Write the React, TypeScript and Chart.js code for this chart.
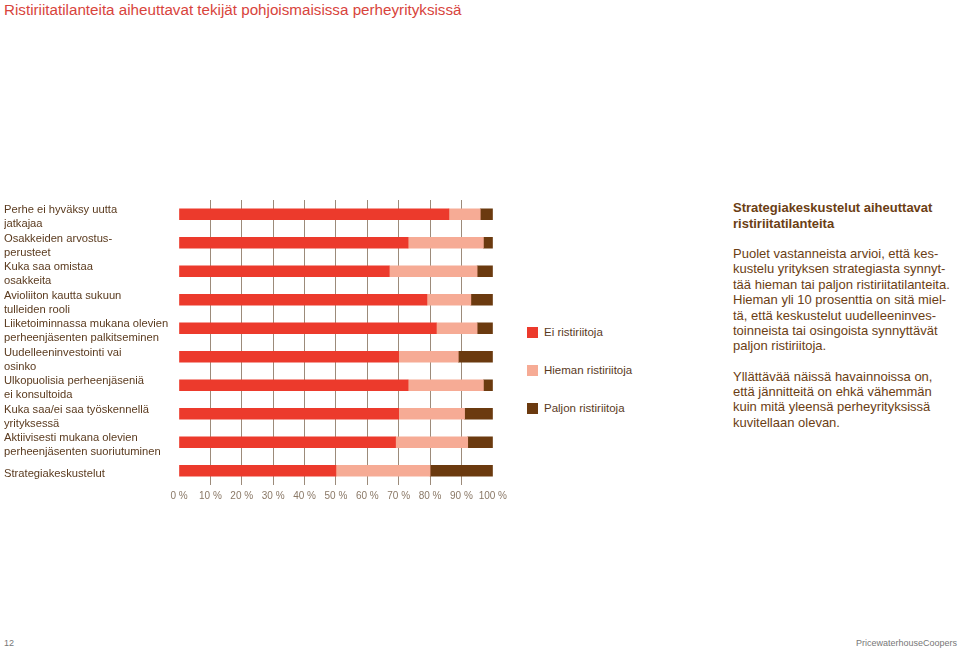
import React, { useEffect, useRef } from "react";
import { Chart, registerables } from "chart.js";

Chart.register(...registerables);

const categories: string[][] = [
  ["Perhe ei hyväksy uutta", "jatkajaa"],
  ["Osakkeiden arvostus-", "perusteet"],
  ["Kuka saa omistaa", "osakkeita"],
  ["Avioliiton kautta sukuun", "tulleiden rooli"],
  ["Liiketoiminnassa mukana olevien", "perheenjäsenten palkitseminen"],
  ["Uudelleeninvestointi vai", "osinko"],
  ["Ulkopuolisia perheenjäseniä", "ei konsultoida"],
  ["Kuka saa/ei saa työskennellä", "yrityksessä"],
  ["Aktiivisesti mukana olevien", "perheenjäsenten suoriutuminen"],
  ["Strategiakeskustelut"],
];

const seriesNames = ["Ei ristiriitoja", "Hieman ristiriitoja", "Paljon ristiriitoja"];
const eiValues = [86, 73, 67, 79, 82, 70, 73, 70, 69, 50];
const hiemanValues = [10, 24, 28, 14, 13, 19, 24, 21, 23, 30];
const paljonValues = [4, 3, 5, 7, 5, 11, 3, 9, 8, 20];
const xTickValues = [0, 10, 20, 30, 40, 50, 60, 70, 80, 90, 100];

const seriesColors = ["#ec3a2c", "#f6ab95", "#6b3a0f"];
const FONT = '"Liberation Sans", Arial, Helvetica, sans-serif';
const BROWN = "#5a3a1e";

export default function App() {
  const canvasRef = useRef<HTMLCanvasElement | null>(null);

  useEffect(() => {
    const canvas = canvasRef.current;
    if (!canvas) return;
    const chart = new Chart(canvas, {
      type: "bar",
      data: {
        labels: categories,
        datasets: [eiValues, hiemanValues, paljonValues].map((vals, i) => ({
          label: seriesNames[i],
          data: vals,
          backgroundColor: seriesColors[i],
          borderWidth: 0,
          barThickness: 11,
        })),
      },
      options: {
        indexAxis: "y",
        responsive: false,
        animation: false,
        layout: { padding: { left: 4, top: 8, right: 16, bottom: 0 } },
        plugins: {
          legend: { display: false },
          tooltip: { enabled: false },
        },
        scales: {
          x: {
            stacked: true,
            min: 0,
            max: 100,
            afterBuildTicks: (axis: any) => {
              axis.ticks = xTickValues.map((v) => ({ value: v }));
            },
            afterFit: (axis: any) => {
              axis.height = 25;
            },
            grid: {
              drawTicks: false,
              color: (ctx: any) =>
                ctx.tick && (ctx.tick.value === 0 || ctx.tick.value === 100)
                  ? "rgba(0,0,0,0)"
                  : "#9c8b7a",
              lineWidth: 1,
            },
            border: { display: false },
            ticks: {
              padding: 5,
              color: "#8a7866",
              font: { family: FONT, size: 10 },
              callback: (v: any) => `${v} %`,
              maxRotation: 0,
              autoSkip: false,
            },
          },
          y: {
            stacked: true,
            afterFit: (axis: any) => {
              axis.width = 175;
            },
            grid: { display: false, drawTicks: false },
            border: { display: false },
            ticks: {
              crossAlign: "far",
              labelOffset: 3,
              color: BROWN,
              font: { family: FONT, size: 11.2, lineHeight: 1.25 },
              autoSkip: false,
            },
          },
        },
      },
    } as any);
    return () => chart.destroy();
  }, []);

  const textStyle: React.CSSProperties = {
    fontFamily: FONT,
    color: "#6b3e14",
  };

  return (
    <div
      style={{
        position: "absolute",
        left: 0,
        top: 0,
        width: 960,
        height: 652,
        background: "#ffffff",
        overflow: "hidden",
        fontFamily: FONT,
      }}
    >
      <div
        style={{
          position: "absolute",
          left: 4,
          top: 1,
          fontSize: 15.2,
          color: "#d8443c",
          whiteSpace: "nowrap",
        }}
      >
        Ristiriitatilanteita aiheuttavat tekijät pohjoismaisissa perheyrityksissä
      </div>

      <canvas
        ref={canvasRef}
        width={512}
        height={320}
        style={{ position: "absolute", left: 0, top: 190, width: 512, height: 320 }}
      />

      {seriesNames.map((name, i) => (
        <div
          key={name}
          style={{
            position: "absolute",
            left: 527,
            top: 325 + i * 38,
            height: 14,
            display: "flex",
            alignItems: "center",
            whiteSpace: "nowrap",
          }}
        >
          <span
            style={{
              display: "inline-block",
              width: 11,
              height: 11,
              background: seriesColors[i],
              marginRight: 6,
            }}
          />
          <span style={{ fontSize: 11.5, color: BROWN }}>{name}</span>
        </div>
      ))}

      <div
        style={{
          ...textStyle,
          position: "absolute",
          left: 733,
          top: 200,
          fontSize: 13,
          fontWeight: "bold",
          lineHeight: "15.5px",
          whiteSpace: "nowrap",
        }}
      >
        Strategiakeskustelut aiheuttavat
        <br />
        ristiriitatilanteita
      </div>
      <div
        style={{
          ...textStyle,
          position: "absolute",
          left: 733,
          top: 246,
          fontSize: 13,
          lineHeight: "15.4px",
          whiteSpace: "nowrap",
        }}
      >
        Puolet vastanneista arvioi, että kes-
        <br />
        kustelu yrityksen strategiasta synnyt-
        <br />
        tää hieman tai paljon ristiriitatilanteita.
        <br />
        Hieman yli 10 prosenttia on sitä miel-
        <br />
        tä, että keskustelut uudelleeninves-
        <br />
        toinneista tai osingoista synnyttävät
        <br />
        paljon ristiriitoja.
      </div>
      <div
        style={{
          ...textStyle,
          position: "absolute",
          left: 733,
          top: 369,
          fontSize: 13,
          lineHeight: "15.2px",
          whiteSpace: "nowrap",
        }}
      >
        Yllättävää näissä havainnoissa on,
        <br />
        että jännitteitä on ehkä vähemmän
        <br />
        kuin mitä yleensä perheyrityksissä
        <br />
        kuvitellaan olevan.
      </div>

      <div
        style={{
          position: "absolute",
          left: 4,
          top: 638,
          fontSize: 9,
          color: "#777",
        }}
      >
        12
      </div>
      <div
        style={{
          position: "absolute",
          right: 3,
          top: 638,
          fontSize: 9,
          color: "#777",
          whiteSpace: "nowrap",
        }}
      >
        PricewaterhouseCoopers
      </div>
    </div>
  );
}
